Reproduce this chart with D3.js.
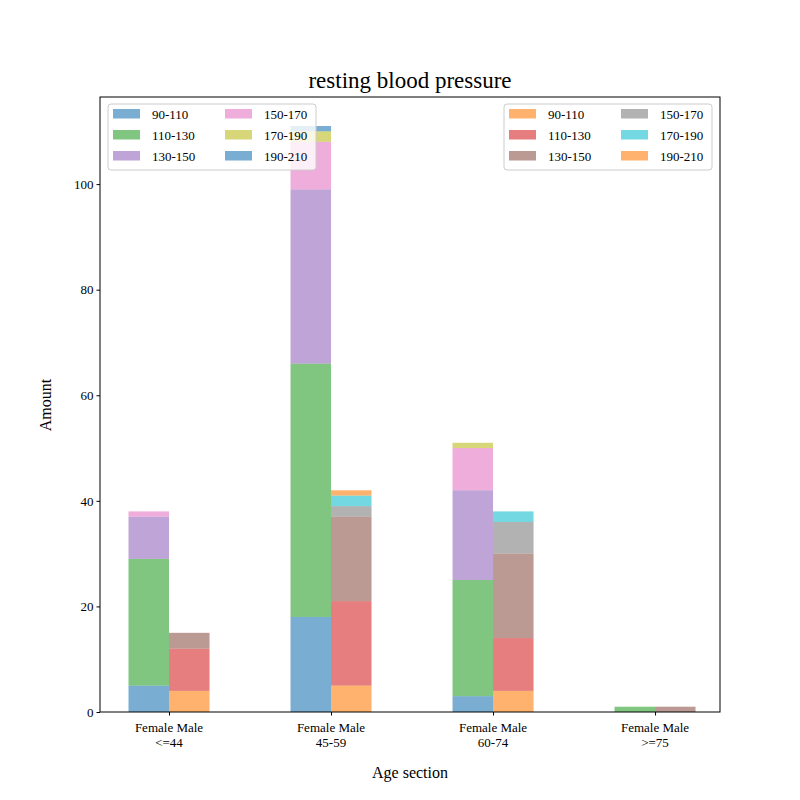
<!DOCTYPE html>
<html><head><meta charset="utf-8">
<script src="https://cdn.jsdelivr.net/npm/d3@7"></script>
<style>body{margin:0;background:#fff}text{font-family:"Liberation Serif","DejaVu Serif",serif}</style>
</head><body>
<svg id="chart" width="800" height="800"></svg>
<script>
const ageGroups = ["<=44", "45-59", "60-74", ">=75"];
const ranges = ["90-110", "110-130", "130-150", "150-170", "170-190", "190-210"];
// counts per range, one value per age group
const female = [
  [5, 18, 3, 0],
  [24, 48, 22, 1],
  [8, 33, 17, 0],
  [1, 9, 8, 0],
  [0, 2, 1, 0],
  [0, 1, 0, 0]
];
const male = [
  [4, 5, 4, 0],
  [8, 16, 10, 0],
  [3, 16, 16, 1],
  [0, 2, 6, 0],
  [0, 2, 2, 0],
  [0, 1, 0, 0]
];
const femaleColors = ["#1f77b4", "#2ca02c", "#9467bd", "#e377c2", "#bcbd22", "#1f77b4"];
const maleColors = ["#ff7f0e", "#d62728", "#8c564b", "#7f7f7f", "#17becf", "#ff7f0e"];
const yTicks = [0, 20, 40, 60, 80, 100];

const svg = d3.select("#chart");
const mLeft = 100, mRight = 720, mTop = 97, mBottom = 712;
const x = d3.scaleLinear().domain([-0.426, 3.401]).range([mLeft, mRight]);
const y = d3.scaleLinear().domain([0, 116.5]).range([mBottom, mTop]);
const bw = 0.25;

function drawStack(data, colors, offset) {
  ageGroups.forEach((g, i) => {
    let base = 0;
    data.forEach((row, r) => {
      const v = row[i];
      if (v > 0) {
        svg.append("rect")
          .attr("x", x(i + offset))
          .attr("width", x(bw) - x(0))
          .attr("y", y(base + v))
          .attr("height", y(base) - y(base + v))
          .attr("fill", colors[r]).attr("fill-opacity", 0.6);
      }
      base += v;
    });
  });
}
drawStack(female, femaleColors, -bw);
drawStack(male, maleColors, 0);

svg.append("rect").attr("x", mLeft).attr("y", mTop).attr("width", mRight - mLeft).attr("height", mBottom - mTop)
  .attr("fill", "none").attr("stroke", "#000").attr("stroke-width", 1);

const ya = svg.append("g").attr("transform", `translate(${mLeft},0)`)
  .call(d3.axisLeft(y).tickValues(yTicks).tickSize(3.5).tickPadding(3));
ya.select(".domain").remove();
ya.selectAll("text").attr("font-size", 13).attr("font-family", "Liberation Serif");

const xa = svg.append("g").attr("transform", `translate(0,${mBottom})`)
  .call(d3.axisBottom(x).tickValues([0, 1, 2, 3]).tickSize(3.5).tickFormat(""));
xa.select(".domain").remove();
ageGroups.forEach((g, i) => {
  const t = svg.append("text").attr("x", x(i)).attr("text-anchor", "middle").attr("font-size", 13);
  t.append("tspan").attr("x", x(i)).attr("y", mBottom + 20).text("Female Male");
  t.append("tspan").attr("x", x(i)).attr("y", mBottom + 35).text(g);
});

svg.append("text").attr("x", 410).attr("y", 88).attr("text-anchor", "middle").attr("font-size", 23).text("resting blood pressure");
svg.append("text").attr("x", 410).attr("y", 778).attr("text-anchor", "middle").attr("font-size", 16).text("Age section");
svg.append("text").attr("transform", "translate(51,405) rotate(-90)").attr("text-anchor", "middle").attr("font-size", 16).text("Amount");

function legend(x0, colors) {
  const g = svg.append("g");
  g.append("rect").attr("x", x0).attr("y", 104).attr("width", 208).attr("height", 66).attr("rx", 3)
    .attr("fill", "#fff").attr("fill-opacity", 0.8).attr("stroke", "#ccc");
  ranges.forEach((r, k) => {
    const col = Math.floor(k / 3), row = k % 3;
    const lx = x0 + 5 + col * 112, ly = 109 + row * 21;
    g.append("rect").attr("x", lx).attr("y", ly).attr("width", 27).attr("height", 9.5)
      .attr("fill", colors[k]).attr("fill-opacity", 0.6);
    g.append("text").attr("x", lx + 39).attr("y", ly + 9.5).attr("font-size", 13).text(r);
  });
}
legend(108, femaleColors);
legend(504, maleColors);
</script>
</body></html>
